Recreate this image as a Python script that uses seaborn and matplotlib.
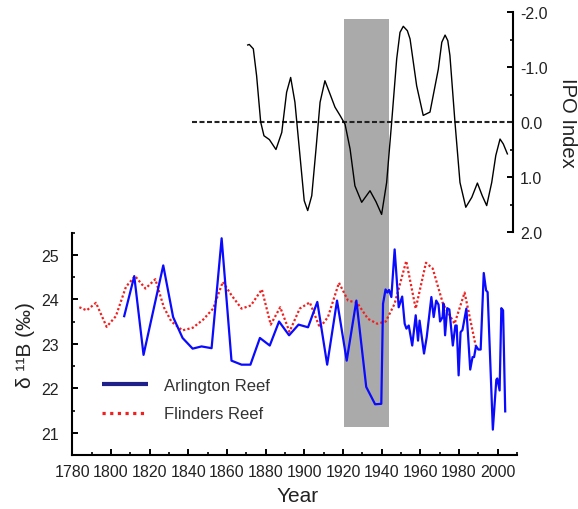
import numpy as np
import pandas as pd
import matplotlib
matplotlib.use("Agg")
import matplotlib.pyplot as plt
import seaborn as sns
from matplotlib.lines import Line2D
from matplotlib.patches import Rectangle
from matplotlib.ticker import MultipleLocator, FormatStrFormatter
from matplotlib import font_manager as fm

# ---------------- data ----------------
arl_year = [1806.8, 1812.0, 1816.8, 1827.0, 1832.1, 1837.0, 1842.2, 1846.8, 1852.0, 1857.2,
            1862.3, 1867.5, 1872.1, 1877.0, 1882.1, 1886.9, 1892.1, 1897.0, 1901.9, 1906.7,
            1911.8, 1916.9, 1921.9, 1926.9, 1932.0, 1936.6, 1939.8, 1940.7, 1942.0, 1942.9,
            1943.8, 1945.0, 1946.7, 1948.8, 1950.6, 1951.9, 1952.8, 1954.0, 1955.8, 1957.6,
            1958.8, 1959.6, 1961.9, 1963.3, 1965.7, 1966.9, 1968.2, 1969.4, 1970.2, 1971.5,
            1972.0, 1972.8, 1973.9, 1975.0, 1976.8, 1978.1, 1978.8, 1979.8, 1980.8, 1981.8,
            1983.8, 1985.8, 1987.0, 1987.8, 1988.8, 1990.0, 1991.2, 1992.8, 1994.0, 1994.8,
            1997.5, 1999.3, 1999.8, 2001.0, 2001.9, 2002.8, 2003.9]
arl_d11b = [23.62, 24.52, 22.75, 24.76, 23.60, 23.13, 22.89, 22.94, 22.90, 25.37,
            22.62, 22.53, 22.53, 23.13, 22.96, 23.50, 23.19, 23.43, 23.37, 23.94,
            22.53, 23.97, 22.62, 23.97, 22.03, 21.64, 21.65, 23.90, 24.22, 24.15,
            24.21, 24.05, 25.12, 23.82, 24.06, 23.45, 23.34, 23.41, 22.96, 23.64,
            23.07, 23.52, 22.78, 23.15, 24.05, 23.60, 23.97, 23.88, 23.50, 23.60,
            23.90, 23.19, 23.80, 23.77, 22.96, 23.41, 23.41, 22.29, 23.26, 23.31,
            23.79, 22.42, 22.70, 22.70, 22.95, 22.87, 22.87, 24.59, 24.20, 24.16,
            21.07, 22.19, 22.22, 21.95, 23.80, 23.75, 21.48]

fli_year = [1783.6, 1787.4, 1792.2, 1797.7, 1802.5, 1807.7, 1812.4, 1817.8, 1822.9, 1827.3,
            1831.2, 1836.9, 1842.3, 1847.6, 1852.8, 1857.8, 1862.3, 1867.5, 1872.3, 1878.0,
            1882.6, 1887.5, 1892.3, 1897.6, 1902.8, 1908.0, 1912.2, 1917.9, 1922.6, 1927.3,
            1932.9, 1937.7, 1942.1, 1946.7, 1952.7, 1957.6, 1962.9, 1966.4, 1971.7, 1977.7,
            1982.9, 1988.6]
fli_d11b = [23.82, 23.75, 23.92, 23.38, 23.62, 24.28, 24.52, 24.24, 24.45, 23.82,
            23.50, 23.30, 23.36, 23.54, 23.79, 24.39, 24.09, 23.79, 23.86, 24.22,
            23.43, 23.82, 23.27, 23.79, 23.93, 23.36, 23.60, 24.37, 23.97, 23.92,
            23.56, 23.45, 23.50, 23.90, 24.86, 23.79, 24.82, 24.69, 23.90, 23.45,
            24.15, 22.96]

ipo_year = [1870.6, 1871.4, 1873.5, 1875.2, 1877.3, 1879.0, 1881.8, 1885.2, 1888.2, 1890.7,
            1892.8, 1895.0, 1897.6, 1899.8, 1901.6, 1903.7, 1905.9, 1908.0, 1910.5, 1912.8,
            1915.7, 1918.3, 1920.9, 1923.5, 1926.0, 1929.5, 1933.8, 1936.9, 1939.8, 1942.4,
            1945.0, 1947.6, 1949.3, 1951.0, 1953.1, 1954.5, 1957.9, 1961.3, 1964.8, 1969.1,
            1970.9, 1972.6, 1974.0, 1975.1, 1977.7, 1980.3, 1983.3, 1986.4, 1989.3, 1991.8,
            1994.1, 1996.7, 1998.8, 2001.0, 2002.7, 2004.8]
ipo_index = [-1.40, -1.41, -1.33, -0.84, 0.00, 0.25, 0.32, 0.50, 0.19, -0.54,
             -0.81, -0.36, 0.61, 1.43, 1.61, 1.34, 0.49, -0.36, -0.75, -0.54,
             -0.27, -0.12, 0.04, 0.49, 1.16, 1.46, 1.25, 1.45, 1.68, 1.10,
             0.00, -1.15, -1.63, -1.74, -1.66, -1.51, -0.66, -0.12, -0.18, -0.96,
             -1.45, -1.58, -1.48, -1.21, 0.00, 1.10, 1.55, 1.37, 1.11, 1.34,
             1.52, 1.10, 0.61, 0.31, 0.40, 0.58]

shade_start, shade_end = 1920.5, 1943.8
series_names = ["Arlington Reef", "Flinders Reef"]

xticks = [1780, 1800, 1820, 1840, 1860, 1880, 1900, 1920, 1940, 1960, 1980, 2000]
yticks = [21, 22, 23, 24, 25]
ipo_ticks = [-2.0, -1.0, 0.0, 1.0, 2.0]

# ---------------- fonts ----------------
def has_font(name):
    try:
        fm.findfont(fm.FontProperties(family=name), fallback_to_default=False)
        return True
    except Exception:
        return False

base_font = "Liberation Sans" if has_font("Liberation Sans") else "DejaVu Sans"
tick_font = "Liberation Sans Narrow" if has_font("Liberation Sans Narrow") else base_font
plt.rcParams["font.family"] = [base_font, "DejaVu Sans"]
plt.rcParams["axes.unicode_minus"] = False

W, H = 578, 510
fig = plt.figure(figsize=(W / 100, H / 100), dpi=100)

# pixel geometry
x0_px, x1_px = 72.4, 517.0
yb_px, yt_px = 456.0, 233.5
ax = fig.add_axes([x0_px / W, 1 - yb_px / H, (x1_px - x0_px) / W, (yb_px - yt_px) / H])
ax.set_facecolor("none")

top_right_px = 513.0
ax2 = fig.add_axes([x0_px / W, 1 - 233 / H, (top_right_px - x0_px) / W, (233 - 13) / H])
ax2.set_facecolor("none")

# shaded interval spanning both panels
ax.add_patch(Rectangle((shade_start, 21.12), shade_end - shade_start, 30.3 - 21.12,
                       facecolor="#aaaaaa", edgecolor="none", clip_on=False, zorder=0))

df_a = pd.DataFrame({"year": arl_year, "d11B": arl_d11b})
df_f = pd.DataFrame({"year": fli_year, "d11B": fli_d11b})
df_i = pd.DataFrame({"year": ipo_year, "ipo": ipo_index})

sns.lineplot(data=df_f, x="year", y="d11B", ax=ax, color="#f02020", lw=1.6,
             linestyle=(0, (1, 1)), estimator=None, zorder=2)
sns.lineplot(data=df_a, x="year", y="d11B", ax=ax, color="#0a0aff", lw=1.6,
             estimator=None, zorder=3)

ax.set_xlim(1780, 2010)
ax.set_ylim(20.5, 25.5)
ax.set_xticks(xticks)
ax.set_yticks(yticks)
ax.xaxis.set_minor_locator(MultipleLocator(10))
ax.yaxis.set_minor_locator(MultipleLocator(0.5))
for s in ["top", "right"]:
    ax.spines[s].set_visible(False)
for s in ["left", "bottom"]:
    ax.spines[s].set_linewidth(1.5)
ax.tick_params(which="major", direction="in", length=4, width=1.4, labelsize=11.5)
ax.tick_params(which="minor", direction="in", length=2.2, width=1.2)
ax.tick_params(axis="x", pad=6.5)
ax.tick_params(axis="y", pad=10)
for lab in ax.get_xticklabels() + ax.get_yticklabels():
    lab.set_fontfamily([tick_font, "DejaVu Sans"])
    lab.set_color("#222222")

ax.set_xlabel("Year", fontsize=15, color="#222222")
ax.xaxis.set_label_coords(0.507, -0.14)
ax.set_ylabel("δ ¹¹B (‰)", fontsize=15, color="#222222")
ax.yaxis.set_label_coords(-0.085, 0.5)

handles = [Line2D([], [], color="#20208a", lw=3.0, solid_capstyle="butt"),
           Line2D([], [], color="#f02020", lw=2.3, linestyle=(0, (1, 1.4)), dash_capstyle="butt")]
leg = ax.legend(handles, series_names, loc="upper left", frameon=False,
                bbox_to_anchor=(102 / W, 1 - 379 / H), bbox_transform=fig.transFigure,
                borderaxespad=0, borderpad=0, handlelength=2.75, handletextpad=1.0,
                labelspacing=0.8, fontsize=12)
for t in leg.get_texts():
    t.set_color("#333333")

# ---------------- IPO panel ----------------
sns.lineplot(data=df_i, x="year", y="ipo", ax=ax2, color="black", lw=1.0,
             estimator=None, zorder=3)
ax2.hlines(0.0, 1841.8, 2007.7, colors="#222222", lw=1.5, linestyles=[(0, (2.4, 1.2))], zorder=2)
ax2.set_xlim(1780, 1780 + (top_right_px - x0_px) / 1.935)
ax2.set_ylim(2.0, -2.0)
ax2.yaxis.tick_right()
ax2.yaxis.set_label_position("right")
ax2.set_yticks(ipo_ticks)
ax2.yaxis.set_major_formatter(FormatStrFormatter("%.1f"))
ax2.yaxis.set_minor_locator(MultipleLocator(0.5))
ax2.set_xticks([])
ax2.set_xlabel("")
ax2.set_ylabel("")
for s in ["top", "left", "bottom"]:
    ax2.spines[s].set_visible(False)
ax2.spines["right"].set_linewidth(1.5)
ax2.tick_params(axis="y", which="major", direction="in", length=4, width=1.4,
                labelsize=11.5, pad=5, right=True, left=False)
ax2.tick_params(axis="y", which="minor", direction="in", length=2.2, width=1.2,
                right=True, left=False)
for lab in ax2.get_yticklabels():
    lab.set_fontfamily([tick_font, "DejaVu Sans"])
    lab.set_color("#222222")

fig.text(568 / W, 1 - 123 / H, "IPO Index", rotation=270, ha="center", va="center",
         fontsize=14.5, color="#222222")

fig.savefig("out.png", dpi=100)
